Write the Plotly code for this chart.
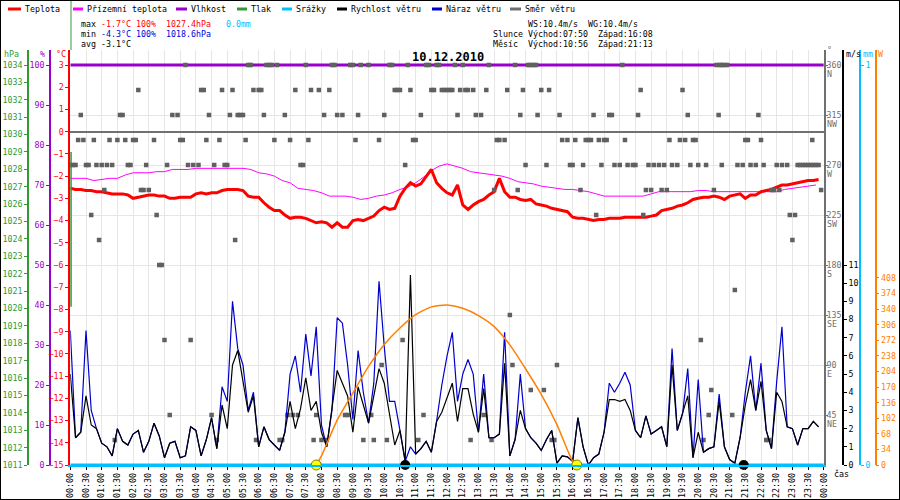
import pandas as pd
import plotly.graph_objects as go

DAY = "2010-12-10"
FONT = "DejaVu Sans Mono"
NBSP = "\u00a0"

RED = "#FF0000"
MAGENTA = "#FF00FF"
PURPLE = "#9900CC"
GREEN = "#339933"
CYAN = "#00BFFF"
BLUE = "#0000CC"
GRAY = "#707070"
SQUARE = "#606060"
ORANGE = "#FF8000"

# temperature, every 10 min from 00:00
temp_c = [
    -2.55, -2.6, -2.6, -2.65, -2.65, -2.7, -2.7, -2.75, -2.8, -2.8, -2.8, -2.85,
    -3.0, -2.95, -2.9, -2.85, -2.85, -2.9, -2.9, -3.0, -3.0, -2.95, -2.95, -2.95,
    -2.8, -2.75, -2.8, -2.75, -2.75, -2.65, -2.6, -2.6, -2.6, -2.65, -2.9, -2.95,
    -2.95, -3.2, -3.4, -3.55, -3.55, -3.75, -3.9, -3.85, -3.85, -3.9, -4.0, -4.1,
    -4.05, -4.1, -4.3, -4.1, -4.3, -4.3, -4.0, -3.95, -4.0, -3.9, -3.8, -3.55,
    -3.4, -3.5, -3.45, -2.9, -2.55, -2.3, -2.45, -2.35, -2.0, -1.7, -2.3, -2.55,
    -2.75, -2.85, -2.4, -3.3, -3.5, -3.3, -3.15, -3.05, -2.85, -2.7, -2.1, -2.7,
    -2.95, -2.95, -3.05, -3.1, -3.05, -3.25, -3.3, -3.35, -3.45, -3.5, -3.55, -3.6,
    -3.85, -3.9, -3.9, -3.95, -4.0, -3.95, -3.95, -3.9, -3.9, -3.9, -3.85, -3.85,
    -3.85, -3.85, -3.85, -3.8, -3.75, -3.55, -3.5, -3.45, -3.35, -3.3, -3.2, -3.05,
    -3.0, -2.95, -2.95, -2.9, -2.95, -3.05, -2.9, -2.85, -2.8, -3.0, -2.85, -2.85,
    -2.7, -2.65, -2.6, -2.5, -2.4, -2.4, -2.35, -2.3, -2.25, -2.2, -2.2, -2.15,
]

# ground temperature, every 15 min
ground_c = [
    -2.1, -2.1, -2.1, -2.2, -2.15, -2.1, -2.1, -1.95, -1.85, -1.85, -1.85, -1.8,
    -1.8, -1.7, -1.7, -1.7, -1.65, -1.65, -1.65, -1.65, -1.65, -1.65, -1.65, -1.7,
    -1.85, -1.9, -2.0, -2.2, -2.3, -2.55, -2.6, -2.65, -2.75, -2.9, -2.9, -2.9,
    -2.95, -3.05, -3.0, -2.9, -2.85, -2.75, -2.6, -2.5, -2.3, -2.05, -1.75, -1.55,
    -1.45, -1.55, -1.65, -1.8, -1.85, -1.9, -1.95, -2.0, -2.1, -2.25, -2.3, -2.35,
    -2.45, -2.5, -2.55, -2.6, -2.6, -2.65, -2.7, -2.8, -2.9, -2.9, -2.9, -2.9,
    -2.9, -2.9, -2.8, -2.7, -2.7, -2.7, -2.7, -2.7, -2.65, -2.65, -2.7, -2.7,
    -2.7, -2.7, -2.7, -2.7, -2.7, -2.7, -2.7, -2.6, -2.55, -2.5, -2.45, -2.4,
]

# wind speed and gust (m/s), every 10 min
wind_ms = [
    5.0, 1.5, 1.8, 3.8, 2.2, 2.0, 1.2, 1.0, 0.5, 2.0, 1.3, 1.1,
    1.7, 1.9, 0.7, 1.3, 2.3, 1.6, 0.4, 1.2, 1.3, 0.4, 0.5, 2.1,
    1.9, 0.5, 1.4, 2.6, 0.9, 3.3, 2.0, 5.5, 6.3, 4.5, 2.9, 3.8,
    1.0, 2.1, 1.4, 1.1, 0.8, 1.8, 3.5, 2.0, 3.1, 4.8, 3.0, 3.5,
    1.8, 1.0, 3.0, 5.2, 4.5, 3.8, 1.8, 4.3, 3.3, 2.3, 3.8, 5.3,
    4.5, 2.8, 1.1, 1.9, 0.2, 10.45, 0.6, 0.9, 1.3, 0.7, 2.4, 2.9,
    3.7, 4.5, 2.4, 4.2, 4.2, 2.8, 1.8, 4.2, 1.5, 1.5, 1.7, 5.6,
    0.5, 1.4, 3.0, 2.0, 1.5, 1.2, 0.8, 1.4, 1.9, 0.1, 0.5, 0.45,
    0.2, 2.6, 1.0, 0.0, 0.4, 0.6, 1.8, 3.6, 3.6, 3.5, 3.6, 3.0,
    1.9, 1.5, 2.7, 1.7, 1.9, 2.1, 1.0, 5.5, 1.9, 2.8, 3.8, 0.4,
    1.8, 0.7, 0.9, 1.0, 3.5, 1.0, 0.3, 0.1, 1.5, 3.3, 4.7, 3.0,
    4.6, 1.9, 0.9, 4.0, 3.5, 2.1, 2.0, 1.1, 2.0, 2.0, 2.4, 2.1,
]
gust_ms = [
    7.4, 1.5, 1.8, 7.4, 3.0, 2.0, 1.2, 1.0, 0.5, 2.0, 1.3, 1.1,
    1.7, 1.9, 0.7, 1.3, 2.3, 1.6, 0.4, 1.2, 1.3, 0.4, 0.5, 2.1,
    1.9, 0.5, 1.4, 2.6, 0.9, 4.3, 3.5, 9.0, 6.4, 5.5, 3.0, 4.0,
    1.0, 2.1, 1.4, 1.1, 0.8, 1.8, 5.0, 6.0, 4.0, 7.2, 4.9, 7.6,
    2.2, 1.0, 3.0, 8.1, 7.8, 5.5, 2.5, 6.3, 4.0, 2.3, 4.5, 10.1,
    6.5, 3.5, 3.5, 1.9, 0.2, 1.0, 0.6, 0.9, 1.3, 0.7, 2.4, 4.4,
    6.0, 7.3, 3.5, 5.0, 5.8, 5.0, 1.8, 5.0, 1.5, 1.5, 1.7, 7.3,
    0.5, 1.4, 5.0, 2.0, 1.5, 1.2, 0.8, 1.4, 1.9, 0.1, 0.5, 0.45,
    0.2, 2.6, 1.0, 0.0, 0.4, 0.6, 1.8, 4.5, 4.0, 4.5, 5.1, 4.4,
    1.9, 1.5, 2.7, 1.7, 1.9, 2.1, 1.0, 6.4, 1.9, 2.8, 5.3, 0.4,
    4.7, 0.7, 0.9, 1.0, 3.9, 1.0, 0.3, 0.1, 1.5, 4.0, 6.0, 3.0,
    5.6, 1.9, 0.9, 4.6, 7.6, 2.1, 2.0, 1.1, 2.0, 2.0, 2.4, 2.1,
]

# hourly humidity and rain
humidity_pct = [100, 100, 100, 100, 100, 100, 100, 100, 100, 100, 100, 100, 100,
                100, 100, 100, 100, 100, 100, 100, 100, 100, 100, 100, 100]
rain_mm = [0.0, 0.0, 0.0, 0.0, 0.0, 0.0, 0.0, 0.0, 0.0, 0.0, 0.0, 0.0, 0.0,
           0.0, 0.0, 0.0, 0.0, 0.0, 0.0, 0.0, 0.0, 0.0, 0.0, 0.0, 0.0]

# pressure trace as drawn (collapsed onto the first time stamp)
pressure_at = ["00:00", "00:00"]
pressure_hpa = [1029.0, 1020.1]

# theoretical solar radiation (W)
sun_at = ["07:50", "08:00", "08:30", "09:00", "09:30", "10:00", "10:30", "11:00", "11:30",
          "12:00", "12:30", "13:00", "13:30", "14:00", "14:30", "15:00", "15:30", "16:00", "16:08"]
sun_w = [0, 20, 98, 157, 215, 263, 299, 328, 345, 349, 342, 326, 302, 262, 210, 154, 88, 8, 0]
sun_events = ["07:50", "16:08"]
moon_events = ["10:40", "21:27"]

# wind direction samples, minutes after midnight, one list per compass point
dir_n = [220, 340, 345, 375, 380, 385, 395, 450, 500, 505, 535, 540, 555, 570, 610, 615, 645,
         680, 685, 700, 705, 735, 750, 800, 850, 875, 880, 885, 890, 1055, 1235, 1241, 1245,
         1250, 1255]
dir_nnw = [130, 250, 255, 290, 310, 350, 360, 365, 430, 460, 475, 495, 620, 625, 630, 650, 690,
           695, 710, 715, 720, 725, 730, 745, 755, 760, 770, 795, 835, 865, 900, 915, 1090, 1170]
dir_nw = [20, 95, 100, 195, 205, 265, 305, 320, 325, 330, 370, 410, 485, 510, 520, 550, 600,
          670, 740, 775, 785, 860, 893, 935, 1000, 1030, 1035, 1085, 1180, 1239, 1315]
dir_wnw = [15, 25, 45, 75, 90, 105, 120, 125, 160, 210, 215, 260, 285, 335, 390, 420, 455, 545,
           590, 655, 660, 815, 820, 830, 940, 950, 965, 985, 990, 995, 1010, 1020, 1025, 1060,
           1145, 1165, 1175, 1190, 1195, 1290, 1295, 1320, 1418]
dir_w = [0, 5, 10, 30, 35, 50, 60, 70, 80, 110, 115, 145, 185, 225, 235, 245, 275, 295, 300, 440,
         445, 640, 870, 910, 955, 960, 980, 1015, 1040, 1050, 1065, 1075, 1080, 1105, 1115, 1125,
         1135, 1150, 1160, 1185, 1200, 1215, 1245, 1275, 1285, 1300, 1310, 1325, 1350, 1360, 1370,
         1390, 1395, 1400, 1405, 1410, 1415, 1420, 1425, 1430]
dir_wsw = [65, 135, 140, 150, 810, 855, 975, 1100, 1110, 1130, 1140, 1230, 1340, 1345, 1355, 1435]
dir_sw = [40, 165, 1005, 1095, 1375, 1385]
dir_ssw = [55, 315, 1380]
dir_s = [170, 175]
dir_sse = [1270]
dir_se = [840]
dir_ese = [180, 230, 635, 1205]
dir_e = [595, 845, 930]
dir_ene = [880, 905, 1225]
dir_ne = [190, 270, 415, 425, 435, 470, 525, 530, 575, 675, 790, 1220, 1265]
dir_nne = [85, 280, 355, 400, 405, 465, 480, 490, 560, 580, 605, 665, 765, 805, 920, 925, 1210,
           1330, 1335]

compass = [(360, "N"), (315, "NW"), (270, "W"), (225, "SW"), (180, "S"), (135, "SE"), (90, "E"), (45, "NE")]

direction_sets = [
    (360, dir_n), (337.5, dir_nnw), (315, dir_nw), (292.5, dir_wnw), (270, dir_w),
    (247.5, dir_wsw), (225, dir_sw), (202.5, dir_ssw), (180, dir_s), (157.5, dir_sse),
    (135, dir_se), (112.5, dir_ese), (90, dir_e), (67.5, dir_ene), (45, dir_ne), (22.5, dir_nne),
]

W, H = 900, 500


def px(x):
    return x / W


def py(y):
    return 1 - y / H


def clock(hm):
    return pd.Timestamp(f"{DAY} {hm}")


t10 = pd.date_range(DAY, periods=len(temp_c), freq="10min")
t15 = pd.date_range(DAY, periods=len(ground_c), freq="15min")
t60 = pd.date_range(DAY, periods=len(humidity_pct), freq="60min")

dir_x, dir_y = [], []
for deg, minutes in direction_sets:
    for m in minutes:
        dir_x.append(pd.Timestamp(DAY) + pd.Timedelta(minutes=m))
        dir_y.append(deg)

fig = go.Figure()
fig.add_trace(go.Scatter(x=t15, y=ground_c, mode="lines", line=dict(color=MAGENTA, width=1)))
fig.add_trace(go.Scatter(x=t10, y=temp_c, mode="lines", line=dict(color=RED, width=3)))
fig.add_trace(go.Scatter(x=t60, y=humidity_pct, yaxis="y2", mode="lines",
                         line=dict(color=PURPLE, width=3)))
fig.add_trace(go.Scatter(x=[clock(t) for t in pressure_at], y=pressure_hpa, yaxis="y3",
                         mode="lines", line=dict(color=GREEN, width=3)))
fig.add_trace(go.Scatter(x=dir_x, y=dir_y, yaxis="y4", mode="markers",
                         marker=dict(symbol="square", size=4.5, color=SQUARE)))
fig.add_trace(go.Scatter(x=t10, y=gust_ms, yaxis="y5", mode="lines", line=dict(color=BLUE, width=1.2)))
fig.add_trace(go.Scatter(x=t10, y=wind_ms, yaxis="y5", mode="lines", line=dict(color="black", width=1.2)))
fig.add_trace(go.Scatter(x=t60, y=rain_mm, yaxis="y6", mode="lines", line=dict(color=CYAN, width=3)))
fig.add_trace(go.Scatter(x=[clock(t) for t in sun_at], y=sun_w, yaxis="y7", mode="lines",
                         line=dict(color=ORANGE, width=1.5, shape="spline", smoothing=0.6)))
fig.add_trace(go.Scatter(x=[clock(t) for t in sun_events], y=[0, 0], yaxis="y7", mode="markers",
                         cliponaxis=False,
                         marker=dict(size=10, color="#FFFF00", line=dict(color="#7F7F00", width=1))))
fig.add_trace(go.Scatter(x=[clock(t) for t in moon_events], y=[0, 0], yaxis="y7", mode="markers",
                         cliponaxis=False, marker=dict(size=10, color="black")))
fig.update_traces(hoverinfo="skip", showlegend=False)

X0, X1 = px(70.3), px(823.8)
Y0, Y1 = py(465), py(50)


def axis(color, **kw):
    d = dict(showgrid=False, zeroline=False, showline=True, linecolor=color, linewidth=1.5,
             ticks="outside", ticklen=3, tickcolor=color, tickwidth=1,
             tickfont=dict(family=FONT, size=8.3, color=color), automargin=False, fixedrange=True)
    d.update(kw)
    return d


annotations = []
shapes = []


def note(text, x, y, color="black", anchor="left", size=8.3, **kw):
    annotations.append(dict(text=text, x=px(x), y=py(y), xref="paper", yref="paper",
                            xanchor=anchor, yanchor="middle", showarrow=False, borderpad=0,
                            font=dict(family=FONT, size=size, color=color), **kw))


def rich(parts):
    return "".join(f"<span style='color:{c}'>{t.replace(' ', NBSP)}</span>" for t, c in parts)


# header legend
legend_entries = [
    ("Teplota", RED, 8, 21), ("Přízemní teplota", MAGENTA, 73, 83), ("Vlhkost", PURPLE, 176, 187),
    ("Tlak", GREEN, 237, 247), ("Srážky", CYAN, 282, 292), ("Rychlost větru", "black", 337, 347),
    ("Náraz větru", BLUE, 432, 442), ("Směr větru", GRAY, 510, 521),
]
for name, color, a, b in legend_entries:
    shapes.append(dict(type="line", xref="paper", yref="paper", x0=px(a), x1=px(b), y0=py(9), y1=py(9),
                       line=dict(color=color, width=3)))
    note(name, b + 3, 9)

# summary block
note(rich([("max ", "black"), ("-1.7°C 100%  1027.4hPa", RED), ("   ", "black"), ("0.0mm", CYAN)]), 80, 24)
note(rich([("min ", "black"), ("-4.3°C 100%  1018.6hPa", "#0000DD")]), 80, 34)
note(rich([("avg -3.1°C", "black")]), 80, 44)
note(rich([("WS:10.4m/s  WG:10.4m/s", "black")]), 527, 24)
note(rich([("Slunce Východ:07:50  Západ:16:08", "black")]), 492, 34)
note(rich([("Měsíc  Východ:10:56  Západ:21:13", "black")]), 492, 44)
note("<b>10.12.2010</b>", 448, 57, anchor="center", size=12)

# axis unit labels
note("hPa", 3, 54, GREEN)
note("%", 42, 54, PURPLE, anchor="center")
note("°C", 67, 54, RED, anchor="right")
note("°", 826, 50, GRAY)
note("m/s", 845, 54)
note("mm", 862, 54, CYAN)
note("W", 877, 54, ORANGE)
note("čas", 833, 474)

for deg, letter in compass:
    annotations.append(dict(text=letter, x=px(826), y=deg, xref="paper", yref="y4", yshift=-9,
                            xanchor="left", yanchor="middle", showarrow=False, borderpad=0,
                            font=dict(family=FONT, size=8.3, color=GRAY)))

shapes.append(dict(type="line", xref="paper", yref="paper", x0=px(71), x1=px(71), y0=py(0), y1=py(50),
                   line=dict(color=GREEN, width=1)))
shapes.append(dict(type="rect", xref="paper", yref="paper", x0=0, x1=1, y0=0, y1=1,
                   line=dict(color="black", width=2)))

fig.update_layout(
    template="none",
    width=W, height=H,
    margin=dict(l=0, r=0, t=0, b=0),
    paper_bgcolor="white", plot_bgcolor="white",
    showlegend=False,
    font=dict(family=FONT, size=8.3, color="black"),
    xaxis=dict(domain=[X0, X1], type="date", range=[f"{DAY} 00:00", f"{DAY} 23:59:59"],
               tick0=f"{DAY} 00:00", dtick=30 * 60 * 1000, tickformat="%H:%M", tickangle=-90,
               showgrid=True, gridcolor="#E6E6E6", gridwidth=1, zeroline=False,
               ticks="outside", ticklen=3, tickcolor="black",
               tickfont=dict(family=FONT, size=8.3, color="black"),
               showline=True, linecolor=CYAN, linewidth=1.5, automargin=False, fixedrange=True),
    yaxis=axis(RED, domain=[Y0, Y1], range=[-15, 3.675], tickvals=list(range(-15, 4)),
               linewidth=2, zeroline=True, zerolinecolor=GRAY, zerolinewidth=1.5),
    yaxis2=axis(PURPLE, overlaying="y", anchor="free", position=px(50), side="left",
                range=[0, 103.75], tickvals=list(range(0, 101, 10))),
    yaxis3=axis(GREEN, overlaying="y", anchor="free", position=px(28), side="left",
                range=[1011, 1034.8625], tickvals=list(range(1011, 1035))),
    yaxis4=axis(GRAY, overlaying="y", anchor="x", side="right", range=[0, 373.5],
                tickvals=[45, 90, 135, 180, 225, 270, 315, 360], showgrid=True,
                gridcolor="#E6E6E6", gridwidth=1, linewidth=2, ticklen=2, ticklabelstandoff=-3),
    yaxis5=axis("black", overlaying="y", anchor="free", position=px(843), side="right",
                range=[0, 22.825], tickvals=list(range(0, 12))),
    yaxis6=axis(CYAN, overlaying="y", anchor="free", position=px(860), side="right",
                range=[0, 1.0375], tickvals=[0, 1]),
    yaxis7=axis(ORANGE, overlaying="y", anchor="free", position=px(875.5), side="right",
                range=[0, 905.4], tickvals=list(range(0, 409, 34))),
    annotations=annotations,
    shapes=shapes,
)

fig.write_html("out.html", config={"displayModeBar": False},
               post_script="document.body.style.margin='0';document.body.style.overflow='hidden';")
